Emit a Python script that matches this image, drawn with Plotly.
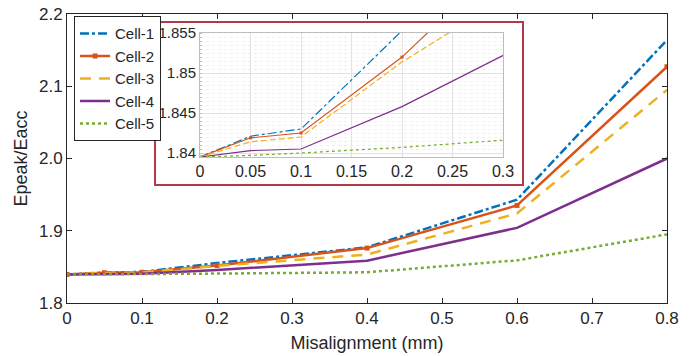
import plotly.graph_objects as go

misalignment = [0, 0.05, 0.1, 0.2, 0.4, 0.6, 0.8]
cell1 = [1.8395, 1.8421, 1.8430, 1.8553, 1.877, 1.943, 2.164]
cell2 = [1.8395, 1.8419, 1.8425, 1.8520, 1.876, 1.935, 2.127]
cell3 = [1.8395, 1.8414, 1.8420, 1.8514, 1.867, 1.924, 2.095]
cell4 = [1.8395, 1.8403, 1.8405, 1.8458, 1.8586, 1.904, 2.000]
cell5 = [1.8395, 1.8397, 1.8400, 1.8407, 1.8425, 1.859, 1.895]

inset_yticks = [1.84, 1.845, 1.85, 1.855]
inset_yticklabels = ["1.84", "1.845", "1.85", "1.855"]
inset_xticks = [0, 0.05, 0.1, 0.15, 0.2, 0.25, 0.3]
inset_xticklabels = ["0", "0.05", "0.1", "0.15", "0.2", "0.25", "0.3"]
main_xticks = [0, 0.1, 0.2, 0.3, 0.4, 0.5, 0.6, 0.7, 0.8]
main_xticklabels = ["0", "0.1", "0.2", "0.3", "0.4", "0.5", "0.6", "0.7", "0.8"]

names = ["Cell-1", "Cell-2", "Cell-3", "Cell-4", "Cell-5"]
series = [cell1, cell2, cell3, cell4, cell5]
colors = ["#0072BD", "#D95319", "#EDB120", "#7E2F8E", "#77AC30"]
dashes = ["dashdot", "solid", "11px,8px", "solid", "dot"]

FONT = "Liberation Sans, Arial, sans-serif"
TXT = "#262626"

fig = go.Figure()
for n, s, c, d in zip(names, series, colors, dashes):
    mk = dict(mode="lines+markers", marker=dict(symbol="square", size=5, color=c)) if n == "Cell-2" else dict(mode="lines")
    fig.add_trace(go.Scatter(x=misalignment, y=s, name=n, line=dict(color=c, width=2.5, dash=d),
                             xaxis="x", yaxis="y", **mk))
for n, s, c, d in zip(names, series, colors, dashes):
    mk = dict(mode="lines+markers", marker=dict(symbol="square", size=3, color=c)) if n == "Cell-2" else dict(mode="lines")
    dd = "6px,3px" if d == "11px,8px" else d
    fig.add_trace(go.Scatter(x=misalignment, y=s, name=n, showlegend=False,
                             line=dict(color=c, width=1.2, dash=dd),
                             xaxis="x2", yaxis="y2", **mk))

fig.add_shape(type="rect", xref="paper", yref="paper", x0=0.1467, x1=0.76, y0=0.408, y1=0.972,
              line=dict(color="#B23A48", width=2), fillcolor="white", layer="below")

fig.update_layout(
    width=691, height=356,
    margin=dict(l=67, r=24, t=14, b=53),
    paper_bgcolor="white", plot_bgcolor="white",
    font=dict(family=FONT, size=17, color=TXT),
    showlegend=True,
    legend=dict(x=0.0117, y=0.992, xanchor="left", yanchor="top",
                bordercolor=TXT, borderwidth=1, bgcolor="white",
                font=dict(size=15, color=TXT), itemwidth=30, tracegroupgap=0),
    xaxis=dict(range=[0, 0.8], tickvals=main_xticks, ticktext=main_xticklabels,
               showgrid=False, zeroline=False, automargin=False,
               showline=True, linecolor=TXT, linewidth=1, mirror="ticks",
               ticks="inside", ticklen=5, tickcolor=TXT,
               title=dict(text="Misalignment (mm)", standoff=8, font=dict(size=18)),
               tickfont=dict(size=17)),
    yaxis=dict(range=[1.8, 2.2], dtick=0.1, tick0=1.8, showgrid=False, zeroline=False, automargin=False,
               showline=True, linecolor=TXT, linewidth=1, mirror="ticks",
               ticks="inside", ticklen=5, tickcolor=TXT, tickformat=".1f",
               title=dict(text="Epeak/Eacc", standoff=6, font=dict(size=18)),
               tickfont=dict(size=17)),
    xaxis2=dict(domain=[0.2217, 0.7267], anchor="y2", range=[0, 0.3], automargin=False,
                tickvals=inset_xticks, ticktext=inset_xticklabels,
                showgrid=True, gridcolor="#E3E3E3", gridwidth=1, zeroline=False,
                showline=True, linecolor="#BDBDBD", mirror=True, ticks="",
                tickfont=dict(size=16, color=TXT)),
    yaxis2=dict(domain=[0.5052, 0.934], anchor="x2", range=[1.8395, 1.855], automargin=False,
                tickvals=inset_yticks, ticktext=inset_yticklabels,
                showgrid=True, gridcolor="#E3E3E3", gridwidth=1, zeroline=False,
                showline=True, linecolor="#BDBDBD", mirror=True, ticks="",
                tickfont=dict(size=15, color=TXT),
                minor=dict(dtick=0.0005, tick0=1.84, showgrid=True, gridcolor="#F0F0F0", griddash="dot",
                           ticks="inside", ticklen=2, tickcolor="#BDBDBD")),
)

fig.write_html("out.html")
